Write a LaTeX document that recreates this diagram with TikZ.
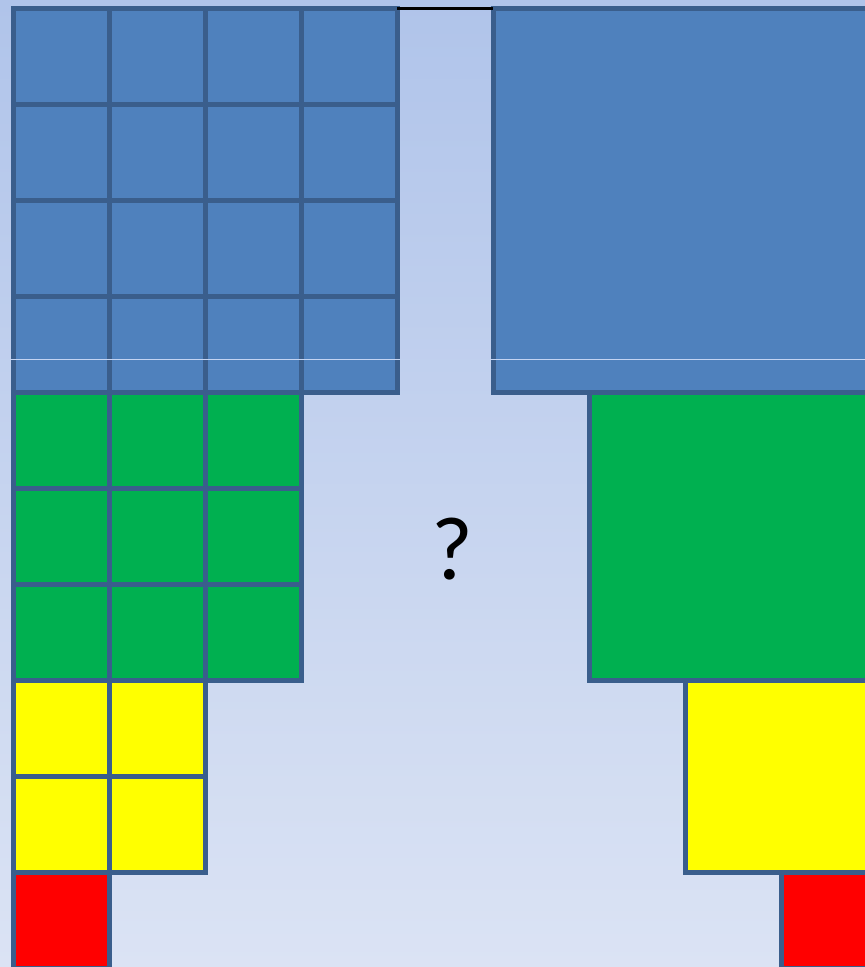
\documentclass[tikz,border=0pt]{standalone}
\usepackage{fontspec}
\newfontfamily\qfont{Carlito}
\definecolor{bgtop}{RGB}{176,196,234}
\definecolor{bgbot}{RGB}{219,227,244}
\definecolor{edge}{RGB}{58,94,140}
\definecolor{blueF}{RGB}{79,129,189}
\definecolor{greenF}{RGB}{0,176,80}
\definecolor{yellowF}{RGB}{255,255,0}
\definecolor{redF}{RGB}{255,0,0}
\definecolor{seam}{RGB}{196,212,242}
\begin{document}
\begin{tikzpicture}[x=1pt,y=-1pt,
  cell/.style={draw=edge,line width=5pt},
  qmark/.style={font=\qfont\fontsize{90}{90}\selectfont,inner sep=0pt}]
\useasboundingbox (0,0) rectangle (865,967);
\clip (0,0) rectangle (865,967);
\shade[top color=bgtop,bottom color=bgbot] (0,0) rectangle (865,967);
% left staircase grid
\foreach \r/\n/\c in {0/4/blueF,1/4/blueF,2/4/blueF,3/4/blueF,4/3/greenF,5/3/greenF,6/3/greenF,7/2/yellowF,8/2/yellowF,9/1/redF}{
  \foreach \k in {1,...,\n}{
    \draw[cell,fill=\c] ({13.5+96*(\k-1)},{8.5+96*\r}) rectangle ++(96,96);
  }
}
% right staircase blocks
\draw[cell,fill=blueF] (493,8.5) rectangle (900,392.5);
\draw[cell,fill=greenF] (589,392.5) rectangle (900,680.5);
\draw[cell,fill=yellowF] (685,680.5) rectangle (900,872.5);
\draw[cell,fill=redF] (781,872.5) rectangle (900,968.5);
% thin seam line
\draw[seam,line width=1pt] (10,359) -- (400,359);
\draw[seam,line width=1pt] (490,359) -- (865,359);
% black top line
\draw[black,line width=3pt] (397,8.5) -- (493,8.5);
% question mark
\node[qmark] (q) at (452,549) {?};
\end{tikzpicture}
\end{document}
